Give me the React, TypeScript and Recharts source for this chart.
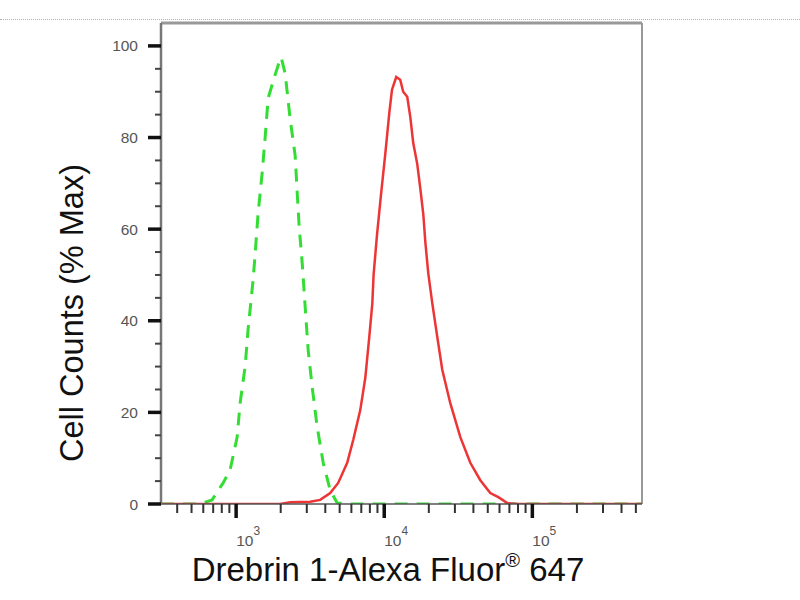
import React from "react";
import { LineChart, Line, XAxis, YAxis, ReferenceLine } from "recharts";

// Isotype control (green dashed)
const controlIntensity = [311, 571, 688, 817, 910, 1016, 1064, 1151, 1205, 1303, 1344, 1408, 1499, 1570, 1645, 1806, 1954, 2014, 2143, 2317, 2505, 2584, 2666, 2793, 2926, 3065, 3263, 3527, 3872, 4317, 4813, 6000, 20000, 100000, 550000];
const controlCount = [0, 0, 0.9, 4.6, 7.4, 14.6, 22, 30.1, 38.2, 49, 54.6, 63.5, 72.3, 80, 88.6, 93, 96.5, 97.5, 94, 84, 76, 68, 60.5, 52.6, 43, 33.6, 25.5, 16.8, 9, 3, 0.2, 0, 0, 0, 0];

// Drebrin 1 - Alexa Fluor 647 (red solid)
const drebrinIntensity = [311, 1984, 2317, 3162, 3696, 4317, 4887, 5623, 6177, 6889, 7447, 7926, 8304, 8475, 8933, 9506, 10160, 10820, 11280, 12050, 12820, 13430, 14300, 14990, 15700, 16710, 17500, 18350, 18920, 19820, 21090, 22800, 24650, 27920, 32640, 38110, 44540, 52010, 58900, 67750, 79200, 550000];
const drebrinCount = [0, 0, 0.4, 0.5, 0.9, 2.4, 4.6, 9, 14, 20.5, 27.5, 36.5, 43.7, 50, 58.7, 67.5, 76.4, 85.4, 90.4, 93.2, 92.6, 90, 88.9, 84.5, 78.8, 74.2, 69, 63.3, 57.4, 50.4, 43.9, 36.5, 29.3, 22, 14.6, 9, 5.2, 2.4, 1.5, 0.2, 0, 0];

const xMajorTicks = [1000, 10000, 100000];
const xMajorExponents = ["3", "4", "5"];
const xMinorTicks = [400, 500, 600, 700, 800, 900, 2000, 3000, 4000, 5000, 6000, 7000, 8000, 9000, 20000, 30000, 40000, 50000, 60000, 70000, 80000, 90000, 200000, 300000, 400000, 500000];
const yTicks = [0, 5, 10, 15, 20, 25, 30, 35, 40, 45, 50, 55, 60, 65, 70, 75, 80, 85, 90, 95, 100];
const yLabelTicks = [0, 20, 40, 60, 80, 100];

const xDomain = [311, 550000];
const yDomain = [0, 105];

const controlData = controlIntensity.map((x, i) => ({ x, y: controlCount[i] }));
const drebrinData = drebrinIntensity.map((x, i) => ({ x, y: drebrinCount[i] }));
const xTicks = [...xMajorTicks, ...xMinorTicks].sort((a, b) => a - b);

const FONT = "'Liberation Sans', Arial, sans-serif";

const XTick = (props: any) => {
  const { x, y, payload } = props;
  const idx = xMajorTicks.indexOf(payload.value);
  const major = idx >= 0;
  return (
    <g>
      <line x1={x} x2={x} y1={y} y2={y + (major ? 14 : 9)} stroke={major ? "#111" : "#333"} strokeWidth={major ? 3.5 : 2} />
      {major && (
        <text x={x} y={y + 42} fontSize={15.5} fill="#555" fontFamily={FONT}>
          <tspan>10</tspan>
          <tspan dy={-11} fontSize={12}>{xMajorExponents[idx]}</tspan>
        </text>
      )}
    </g>
  );
};

const YTick = (props: any) => {
  const { x, y, payload } = props;
  const major = yLabelTicks.includes(payload.value);
  return (
    <g>
      <line x1={x - (major ? 13 : 6)} x2={x} y1={y} y2={y} stroke={major ? "#111" : "#444"} strokeWidth={major ? 3.5 : 2} />
      {major && (
        <text x={x - 23} y={y + 5.5} fontSize={15.5} fill="#555" textAnchor="end" fontFamily={FONT}>
          {payload.value}
        </text>
      )}
    </g>
  );
};

export default function App() {
  return (
    <div style={{ position: "absolute", left: 0, top: 0, width: 800, height: 600, background: "#fff", overflow: "hidden" }}>
      <div style={{ position: "absolute", left: 0, top: 19, width: 800, borderTop: "1px dotted #b0b0b0" }} />
      <LineChart width={800} height={600} margin={{ top: 23, right: 158, bottom: 0, left: 0 }}>
        <XAxis
          dataKey="x"
          type="number"
          scale="log"
          domain={xDomain}
          allowDataOverflow
          ticks={xTicks}
          interval={0}
          tick={<XTick />}
          tickLine={false}
          tickSize={0}
          tickMargin={0}
          height={96}
          axisLine={{ stroke: "#555", strokeWidth: 1.5 }}
        />
        <YAxis
          type="number"
          domain={yDomain}
          allowDataOverflow
          ticks={yTicks}
          interval={0}
          tick={<YTick />}
          tickLine={false}
          tickSize={0}
          tickMargin={0}
          width={161}
          axisLine={{ stroke: "#777", strokeWidth: 2.5 }}
        />
        <ReferenceLine y={105} stroke="#999" strokeWidth={3} ifOverflow="visible" />
        <ReferenceLine x={550000} stroke="#999" strokeWidth={2} ifOverflow="visible" />
        <Line
          data={controlData}
          dataKey="y"
          type="linear"
          stroke="#33dd33"
          strokeWidth={3}
          strokeDasharray="13 9"
          dot={false}
          activeDot={false}
          isAnimationActive={false}
        />
        <Line
          data={drebrinData}
          dataKey="y"
          type="linear"
          stroke="#ee3535"
          strokeWidth={2.5}
          dot={false}
          activeDot={false}
          isAnimationActive={false}
        />
        <text x={83} y={313} transform="rotate(-90 83 313)" textAnchor="middle" fontSize={32.5} fill="#111" fontFamily={FONT}>
          Cell Counts (% Max)
        </text>
        <text x={388} y={581} textAnchor="middle" fontSize={33} fill="#111" fontFamily={FONT}>
          <tspan>Drebrin 1-Alexa Fluor</tspan>
          <tspan dy={-14} fontSize={20}>®</tspan>
          <tspan dy={14}> 647</tspan>
        </text>
      </LineChart>
    </div>
  );
}
